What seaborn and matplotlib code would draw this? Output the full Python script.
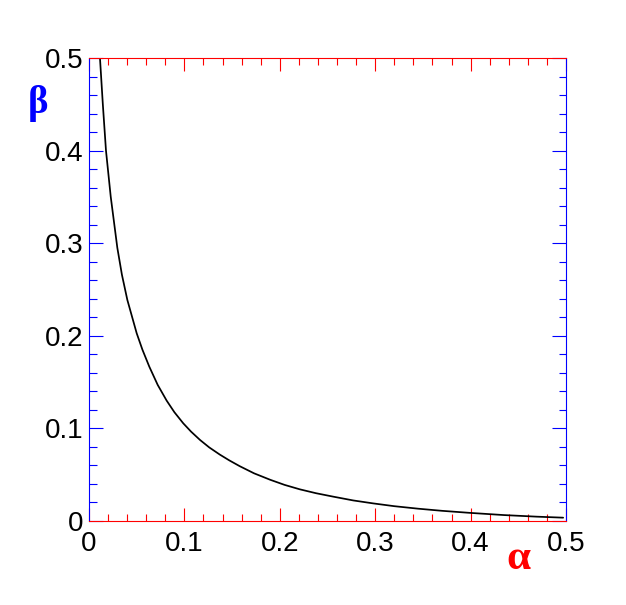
import numpy as np
import pandas as pd
from matplotlib import pyplot as plt
from matplotlib.ticker import MultipleLocator
import seaborn as sns

# Curve
alpha = [0.0115, 0.0145, 0.0178, 0.0228, 0.0297, 0.0345, 0.0402, 0.050, 0.056,
         0.0632, 0.072, 0.0814, 0.0895, 0.0988, 0.107, 0.1164, 0.126, 0.137,
         0.147, 0.158, 0.173, 0.19, 0.205, 0.221, 0.238, 0.256, 0.277, 0.298,
         0.32, 0.345, 0.37, 0.399, 0.435, 0.469, 0.497]
beta = [0.50, 0.45, 0.40, 0.35, 0.295, 0.266, 0.2387, 0.2027, 0.185,
        0.1667, 0.147, 0.130, 0.1175, 0.1055, 0.0965, 0.0875, 0.0795, 0.0718,
        0.0655, 0.0592, 0.0515, 0.0445, 0.039, 0.0342, 0.030, 0.0263, 0.0222, 0.019,
        0.016, 0.0133, 0.011, 0.0088, 0.0064, 0.0047, 0.0036]
xticks = [0, 0.1, 0.2, 0.3, 0.4, 0.5]
yticks = [0, 0.1, 0.2, 0.3, 0.4, 0.5]

df = pd.DataFrame({'alpha': alpha, 'beta': beta})

sns.set_style("ticks")
plt.rcParams['font.family'] = ['Liberation Sans', 'DejaVu Sans']

fig = plt.figure(figsize=(6.26, 6.05), dpi=100)
ax = fig.add_axes([89 / 626, 84 / 605, 477 / 626, 463 / 605])

sns.lineplot(data=df, x='alpha', y='beta', color='black', linewidth=1.25,
             sort=False, estimator=None, ax=ax)

ax.set_xlim(0, 0.5)
ax.set_ylim(0, 0.5)
ax.set_xticks(xticks)
ax.set_yticks(yticks)
ax.set_xticklabels([f'{v:g}' for v in xticks])
ax.set_yticklabels([f'{v:g}' for v in yticks])
ax.xaxis.set_minor_locator(MultipleLocator(0.02))
ax.yaxis.set_minor_locator(MultipleLocator(0.02))

# ROOT-like axes: red x axis, blue y axis, ticks inside on all sides
for side in ['bottom', 'top']:
    ax.spines[side].set_color('red')
    ax.spines[side].set_linewidth(0.8)
for side in ['left', 'right']:
    ax.spines[side].set_color('blue')
    ax.spines[side].set_linewidth(0.8)

ax.tick_params(axis='x', which='both', direction='in', top=True, bottom=True,
               color='red', width=0.8, labelsize=20, labelcolor='black', pad=7)
ax.tick_params(axis='x', which='major', length=9.5)
ax.tick_params(axis='x', which='minor', length=5)
ax.tick_params(axis='y', which='both', direction='in', left=True, right=True,
               color='blue', width=0.8, labelsize=20, labelcolor='black', pad=4)
ax.tick_params(axis='y', which='major', length=10)
ax.tick_params(axis='y', which='minor', length=5.4)

ax.set_xlabel('')
ax.set_ylabel('')
fig.text(518 / 626, 1 - 559 / 605, 'α', color='red', fontsize=31,
         family='Liberation Serif', fontweight='bold', ha='center', va='center')
fig.text(38 / 626, 1 - 104 / 605, 'β', color='blue', fontsize=28,
         family='Liberation Serif', fontweight='bold', ha='center', va='center')

fig.savefig('out.png', dpi=100)
